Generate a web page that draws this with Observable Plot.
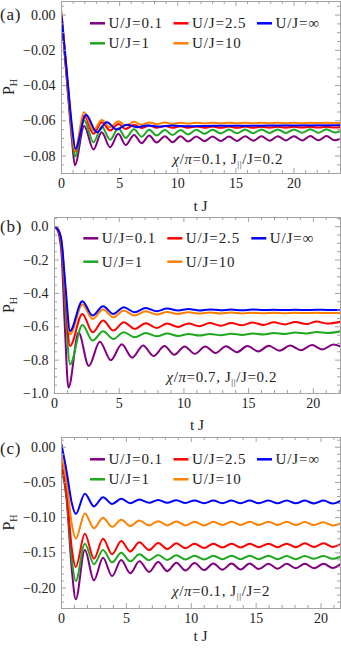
<!DOCTYPE html>
<html><head><meta charset="utf-8">
<script src="https://cdn.jsdelivr.net/npm/d3@7"></script>
<script src="https://cdn.jsdelivr.net/npm/@observablehq/plot@0.6"></script>
<style>
html,body{margin:0;padding:0;background:#fff;}
#chart{width:341px;}
#chart svg{display:block;overflow:visible;}
</style></head><body><div id="chart"></div>
<script>
// ---------- series meta ----------
const seriesLabels = ["U/J=0.1", "U/J=1", "U/J=2.5", "U/J=10", "U/J=\u221E"];
const seriesColors = ["#800080", "#1ea81e", "#ff0000", "#ff8000", "#0000ff"];

// ---------- panel (a): chi/pi=0.1, J||/J=0.2 ----------
const tA = [0, 0.5, 0.9, 1.15, 1.95, 2.75, 3.46, 4.18, 4.89, 5.52, 6.24, 6.89, 7.55, 8.18, 8.89, 9.55, 10.24, 10.9, 11.6, 12.3, 13.0, 13.7, 14.4, 15.1, 15.8, 16.5, 17.2, 17.9, 18.6, 19.3, 20.0, 20.7, 21.4, 22.1, 22.8, 23.5, 24];
const aPurple = [0, -0.040, -0.071, -0.0852, -0.0630, -0.0763, -0.0665, -0.0750, -0.0674, -0.0737, -0.0680, -0.0727, -0.0684, -0.0723, -0.0687, -0.0721, -0.0688, -0.0718, -0.0689, -0.0716, -0.0689, -0.0715, -0.0689, -0.0714, -0.0688, -0.0713, -0.0688, -0.0713, -0.0687, -0.0712, -0.0687, -0.0712, -0.0686, -0.0711, -0.0686, -0.0711, -0.0699];
const aGreen = [0, -0.039, -0.068, -0.0803, -0.0597, -0.0722, -0.0633, -0.0708, -0.0642, -0.0697, -0.0648, -0.0690, -0.0651, -0.0684, -0.0652, -0.0680, -0.0652, -0.0677, -0.0651, -0.0674, -0.0651, -0.0672, -0.0650, -0.0671, -0.0650, -0.0670, -0.0649, -0.0669, -0.0649, -0.0669, -0.0649, -0.0668, -0.0648, -0.0668, -0.0648, -0.0667, -0.0658];
const aRed = [0, -0.038, -0.066, -0.0775, -0.0572, -0.0674, -0.0608, -0.0655, -0.0618, -0.0646, -0.0623, -0.0641, -0.0627, -0.0640, -0.0629, -0.0640, -0.0631, -0.0640, -0.0632, -0.0640, -0.0633, -0.0640, -0.0633, -0.0639, -0.0633, -0.0639, -0.0634, -0.0639, -0.0634, -0.0639, -0.0634, -0.0638, -0.0634, -0.0638, -0.0634, -0.0638, -0.0636];
const aOrange = [0.002, -0.036, -0.065, -0.0770, -0.0551, -0.0655, -0.0595, -0.0636, -0.0602, -0.0627, -0.0606, -0.0622, -0.0609, -0.0619, -0.0610, -0.0617, -0.0611, -0.0616, -0.0611, -0.0615, -0.0611, -0.0615, -0.0611, -0.0614, -0.0611, -0.0614, -0.0611, -0.0614, -0.0611, -0.0614, -0.0611, -0.0614, -0.0611, -0.0613, -0.0611, -0.0613, -0.0612];
const tAblue = [0, 0.5, 0.9, 1.2, 2.1, 3.05, 3.9, 4.75, 5.6, 6.5, 7.4, 8.4, 9.5, 11, 13, 16, 20, 24];
const aBlue = [0, -0.035, -0.063, -0.0759, -0.0566, -0.0665, -0.0608, -0.0650, -0.0622, -0.0636, -0.0626, -0.0633, -0.0627, -0.0631, -0.0628, -0.0628, -0.0626, -0.0625];
const xTicksA = [0, 5, 10, 15, 20];
const yTicksA = [0, -0.02, -0.04, -0.06, -0.08];

// ---------- panel (b): chi/pi=0.7, J||/J=0.2 ----------
const tBpurple = [0, 0.3, 0.55, 0.8, 1.08, 1.86, 2.65, 3.5, 4.35, 5.2, 6.0, 6.85, 7.65, 8.5, 9.25, 10.05, 10.85, 11.65, 12.45, 13.25, 14.1, 14.9, 15.75, 16.55, 17.4, 18.2, 19.05, 19.9, 20.7, 21.55, 22.1];
const bPurple = [0, -0.035, -0.17, -0.60, -0.965, -0.635, -0.835, -0.690, -0.800, -0.705, -0.785, -0.712, -0.775, -0.716, -0.768, -0.718, -0.762, -0.718, -0.757, -0.717, -0.752, -0.716, -0.748, -0.714, -0.744, -0.712, -0.740, -0.710, -0.736, -0.707, -0.718];
const tB = [0, 0.3, 0.55, 0.85, 1.2, 2.15, 2.95, 3.75, 4.55, 5.35, 6.2, 7.05, 7.9, 8.7, 9.55, 10.35, 11.2, 12.0, 12.85, 13.65, 14.5, 15.3, 16.15, 16.95, 17.8, 18.6, 19.45, 20.25, 21.1, 22.1];
const bGreen = [0, -0.024, -0.12, -0.50, -0.825, -0.590, -0.683, -0.627, -0.673, -0.633, -0.663, -0.637, -0.657, -0.641, -0.655, -0.643, -0.653, -0.643, -0.651, -0.642, -0.649, -0.640, -0.646, -0.637, -0.643, -0.635, -0.640, -0.632, -0.637, -0.627];
const bRed = [0, -0.022, -0.11, -0.43, -0.715, -0.523, -0.633, -0.563, -0.623, -0.573, -0.613, -0.579, -0.607, -0.581, -0.601, -0.580, -0.597, -0.578, -0.594, -0.577, -0.591, -0.575, -0.589, -0.573, -0.586, -0.571, -0.584, -0.569, -0.581, -0.570];
const bOrange = [0, -0.02, -0.095, -0.38, -0.645, -0.467, -0.553, -0.497, -0.543, -0.503, -0.533, -0.507, -0.527, -0.511, -0.523, -0.513, -0.521, -0.514, -0.520, -0.515, -0.520, -0.516, -0.519, -0.516, -0.519, -0.516, -0.518, -0.516, -0.518, -0.517];
const bBlue = [0, -0.02, -0.09, -0.36, -0.625, -0.447, -0.533, -0.477, -0.523, -0.483, -0.513, -0.487, -0.507, -0.491, -0.503, -0.494, -0.502, -0.496, -0.501, -0.497, -0.501, -0.497, -0.500, -0.498, -0.500, -0.498, -0.500, -0.498, -0.499, -0.499];
const xTicksB = [0, 5, 10, 15, 20];
const yTicksB = [0, -0.2, -0.4, -0.6, -0.8, -1.0];

// ---------- panel (c): chi/pi=0.1, J||/J=2 ----------
const tC = [0, 0.4, 0.8, 1.1, 1.8, 2.5, 3.2, 3.9, 4.6, 5.3, 6.0, 6.75, 7.45, 8.15, 8.85, 9.55, 10.25, 11.0, 11.7, 12.4, 13.1, 13.8, 14.5, 15.2, 15.95, 16.65, 17.35, 18.05, 18.75, 19.45, 20.2, 20.9, 21.5];
const cPurple = [-0.028, -0.075, -0.175, -0.216, -0.146, -0.189, -0.157, -0.183, -0.160, -0.179, -0.162, -0.177, -0.163, -0.176, -0.164, -0.175, -0.1645, -0.1745, -0.165, -0.174, -0.165, -0.1735, -0.165, -0.173, -0.1655, -0.1725, -0.1655, -0.172, -0.1655, -0.172, -0.1655, -0.1715, -0.166];
const cGreen = [-0.024, -0.070, -0.160, -0.190, -0.137, -0.166, -0.146, -0.1635, -0.150, -0.162, -0.152, -0.1605, -0.153, -0.160, -0.1535, -0.1595, -0.154, -0.1595, -0.154, -0.159, -0.154, -0.159, -0.154, -0.159, -0.154, -0.159, -0.1545, -0.159, -0.1545, -0.1585, -0.1545, -0.1585, -0.1555];
const cRed = [-0.021, -0.065, -0.145, -0.170, -0.123, -0.1585, -0.130, -0.152, -0.133, -0.148, -0.135, -0.146, -0.136, -0.1445, -0.1365, -0.1435, -0.137, -0.143, -0.137, -0.1425, -0.137, -0.1425, -0.137, -0.142, -0.137, -0.142, -0.137, -0.142, -0.1365, -0.1415, -0.1365, -0.1415, -0.1375];
const cOrange = [-0.012, -0.050, -0.110, -0.130, -0.094, -0.115, -0.100, -0.113, -0.103, -0.112, -0.104, -0.111, -0.105, -0.111, -0.1055, -0.111, -0.106, -0.111, -0.106, -0.1105, -0.106, -0.1105, -0.106, -0.1105, -0.106, -0.1105, -0.106, -0.1105, -0.1062, -0.1105, -0.1065, -0.111, -0.1085];
const cBlue = [0.004, -0.035, -0.080, -0.0946, -0.0660, -0.0840, -0.0710, -0.0805, -0.0733, -0.0795, -0.0743, -0.0790, -0.0748, -0.0790, -0.0752, -0.0792, -0.0755, -0.0795, -0.0756, -0.0795, -0.0756, -0.0796, -0.0757, -0.0796, -0.0757, -0.0797, -0.0757, -0.0797, -0.0758, -0.0798, -0.0758, -0.0800, -0.0762];
const xTicksC = [0, 5, 10, 15, 20];
const yTicksC = [0, -0.05, -0.10, -0.15, -0.20];

// ---------- drawing ----------
const FONT = "'Liberation Serif','Times New Roman',serif";
const FRAME = "#a3a3a3";
const TEXT = "#222";
const W = 341;

function buildPanel(p) {
  const iw = W - p.ml - p.mr, ih = p.h - p.mt - p.mb;
  const data = p.series.flatMap(([t, v], k) => t.map((x, i) => ({t: x, v: v[i], s: seriesLabels[k]})));
  const xMinor = d3.range(Math.ceil(p.xDomain[0]), Math.floor(p.xDomain[1]) + 1).filter(d => d % 5 !== 0);
  const yMinor = d3.range(Math.ceil(p.yDomain[0] / p.yStep - 1e-6), Math.floor(p.yDomain[1] / p.yStep + 1e-6) + 1)
    .filter(i => i % p.yPer !== 0).map(i => i * p.yStep);
  const svg = Plot.plot({
    width: W, height: p.h,
    marginTop: p.mt, marginBottom: p.mb, marginLeft: p.ml, marginRight: p.mr,
    style: {fontFamily: FONT, fontSize: "14px", color: TEXT, background: "white", overflow: "visible"},
    x: {domain: p.xDomain, label: null},
    y: {domain: p.yDomain, label: null},
    color: {domain: seriesLabels, range: seriesColors},
    marks: [
      Plot.line(data, {x: "t", y: "v", stroke: "s", strokeWidth: 2, curve: "monotone-x", clip: true}),
      Plot.frame({stroke: FRAME}),
      Plot.ruleX(p.xTicks, {insetTop: ih - 5, stroke: FRAME}),
      Plot.ruleX(p.xTicks, {insetBottom: ih - 5, stroke: FRAME}),
      Plot.ruleX(xMinor, {insetTop: ih - 3, stroke: FRAME}),
      Plot.ruleX(xMinor, {insetBottom: ih - 3, stroke: FRAME}),
      Plot.ruleY(p.yTicks, {insetRight: iw - 5, stroke: FRAME}),
      Plot.ruleY(p.yTicks, {insetLeft: iw - 5, stroke: FRAME}),
      Plot.ruleY(yMinor, {insetRight: iw - 3, stroke: FRAME}),
      Plot.ruleY(yMinor, {insetLeft: iw - 3, stroke: FRAME}),
      Plot.axisX(p.xTicks, {tickSize: 0, tickPadding: 5, label: null, tickFormat: d => String(d), fill: TEXT}),
      Plot.axisY(p.yTicks, {tickSize: 0, tickPadding: 6, label: null, tickFormat: p.yFormat, fill: TEXT})
    ]
  });
  const g = d3.select(svg).append("g").attr("font-family", FONT).attr("fill", TEXT)
    .attr("text-anchor", "start").style("text-anchor", "start");
  // panel tag
  g.append("text").attr("x", 0).attr("y", p.tagY).attr("font-size", 17).attr("letter-spacing", 0.8).text(p.tag);
  // y label P_H
  const yl = g.append("text").style("text-anchor", "middle").attr("font-size", 16)
    .attr("transform", `translate(13.5,${p.mt + ih / 2}) rotate(-90)`);
  yl.append("tspan").text("P");
  yl.append("tspan").attr("font-size", 10).attr("dy", 3).text("H");
  // x label
  g.append("text").attr("x", p.ml + iw / 2).attr("y", p.xLabY).style("text-anchor", "middle")
    .attr("font-size", 15.5).text("t J");
  // legend: columns of two rows
  seriesLabels.forEach((lab, i) => {
    const col = Math.floor(i / 2), row = i % 2;
    const x = p.legX + col * p.legStep, y = p.legY[row];
    g.append("line").attr("x1", x).attr("x2", x + 15).attr("y1", y).attr("y2", y)
      .attr("stroke", seriesColors[i]).attr("stroke-width", 2.5);
    g.append("text").attr("x", x + 18.5).attr("y", y + 5).attr("font-size", 15)
      .attr("letter-spacing", 0.9).style("text-anchor", "start").text(lab);
  });
  // parameter note
  const nt = g.append("text").attr("x", p.noteX).attr("y", p.noteY).style("text-anchor", "end")
    .attr("font-size", 15).attr("letter-spacing", 0.6);
  nt.append("tspan").attr("font-style", "italic").text("\u03C7");
  nt.append("tspan").text("/");
  nt.append("tspan").attr("font-style", "italic").text("\u03C0");
  nt.append("tspan").text("=" + p.chi + ", J");
  nt.append("tspan").attr("font-size", 9).attr("dy", 3).text("||");
  nt.append("tspan").attr("dy", -3).text("/J=" + p.jpar);
  return svg;
}

const chart = document.getElementById("chart");
chart.append(buildPanel({
  h: 215, mt: 1, mb: 42, ml: 61, mr: 1,
  xDomain: [0, 24], yDomain: [-0.0899, 0.0077],
  xTicks: xTicksA, yTicks: yTicksA, yStep: 0.005, yPer: 4, yFormat: d3.format(".2f"),
  series: [[tA, aPurple], [tA, aGreen], [tA, aRed], [tA, aOrange], [tAblue, aBlue]],
  tag: "(a)", tagY: 20, xLabY: 211,
  legX: 90, legStep: 83.5, legY: [23.3, 43.3],
  noteX: 283, noteY: 164, chi: "0.1", jpar: "0.2"
}));
chart.append(buildPanel({
  h: 218, mt: 2, mb: 40, ml: 54, mr: 1,
  xDomain: [0, 22.1], yDomain: [-1.0, 0.055],
  xTicks: xTicksB, yTicks: yTicksB, yStep: 0.05, yPer: 4, yFormat: d3.format(".1f"),
  series: [[tBpurple, bPurple], [tB, bGreen], [tB, bRed], [tB, bOrange], [tB, bBlue]],
  tag: "(b)", tagY: 17, xLabY: 215,
  legX: 83.3, legStep: 84, legY: [23.3, 46.7],
  noteX: 277, noteY: 167, chi: "0.7", jpar: "0.2"
}));
chart.append(buildPanel({
  h: 218, mt: 4, mb: 43, ml: 61, mr: 1,
  xDomain: [0, 21.5], yDomain: [-0.229, 0.0138],
  xTicks: xTicksC, yTicks: yTicksC, yStep: 0.01, yPer: 5, yFormat: d3.format(".2f"),
  series: [[tC, cPurple], [tC, cGreen], [tC, cRed], [tC, cOrange], [tC, cBlue]],
  tag: "(c)", tagY: 21, xLabY: 208,
  legX: 90, legStep: 83.5, legY: [26.3, 46.3],
  noteX: 270, noteY: 163, chi: "0.1", jpar: "2"
}));
</script></body></html>
